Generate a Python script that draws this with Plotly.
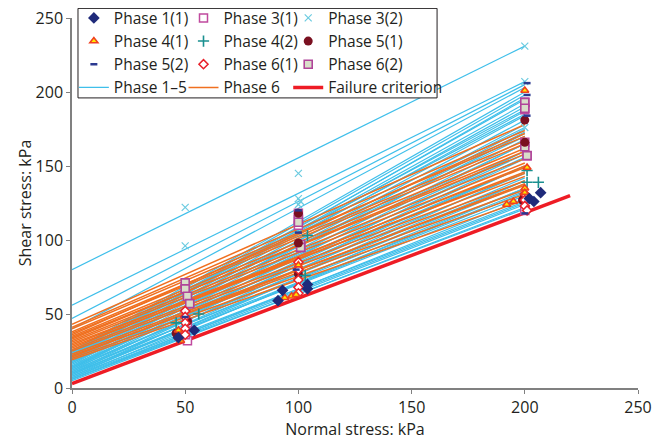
import plotly.graph_objects as go

# ---------------- data ----------------
# Mohr-Coulomb fit lines: intercept (kPa at sigma=0) and shear stress at sigma=200 kPa
phase15_c = [80, 56, 47, 40, 25, 24, 23, 22, 21, 20, 19, 18, 17, 16, 15, 14, 13, 12, 11, 10,
             9, 8, 7, 6, 5, 24, 22, 20, 18, 16, 14, 12, 10, 8, 6, 23, 19, 15, 11, 7,
             21, 17, 13, 9, 25, 20, 14, 10, 6]
phase15_t200 = [231, 207, 205, 203, 200, 198, 195, 192, 190, 187, 184, 181, 178, 175, 172, 168, 165, 160, 155, 150,
                146, 140, 135, 128, 122, 185, 170, 160, 150, 145, 140, 135, 130, 126, 121, 176, 165, 150, 138, 125,
                196, 158, 142, 132, 188, 173, 156, 133, 124]
phase6_c = [43, 41, 40, 38, 37, 35, 34, 32, 31, 29, 28, 26, 25, 23, 22, 20, 19, 33, 27, 21, 36, 30]
phase6_t200 = [178, 174, 170, 167, 165, 162, 158, 155, 152, 149, 146, 143, 140, 137, 134, 131, 127, 160, 150, 138,
               172, 145]
fit_x_end = 200

failure_x = [0, 220]
failure_y = [3, 130]

p11_x = [47, 54, 91, 93, 104, 104, 202, 204, 207]
p11_y = [34, 39, 59, 66, 67, 70, 128, 126, 132]
p41_x = [47, 47, 48, 94, 97, 99, 100, 200, 201, 200, 200, 195, 192]
p41_y = [39, 34, 32, 61, 62, 63, 83, 201, 149, 135, 132, 126, 124]
p52_x = [50, 100, 100, 99, 201, 201, 201, 200]
p52_y = [48, 120, 105, 80, 206, 198, 184, 118]
p31_x = [51, 50, 51, 100, 100, 101, 200, 200, 200, 201, 200]
p31_y = [32, 36, 44, 118, 110, 95, 193, 188, 166, 157, 120]
p42_x = [46, 56, 104, 103, 201, 201, 206]
p42_y = [44, 50, 103, 76, 147, 139, 139]
p61_x = [50, 50, 50, 50, 50, 100, 100, 100, 100, 100, 200, 200, 200, 201]
p61_y = [52, 48, 44, 40, 36, 85, 80, 73, 68, 64, 131, 127, 123, 120]
p32_x = [50, 50, 100, 100, 101, 100, 200, 200, 200]
p32_y = [122, 96, 145, 128, 126, 124, 231, 207, 176]
p51_x = [46, 51, 100, 100, 100, 200, 200, 200, 199]
p51_y = [37, 45, 118, 98, 77, 181, 166, 130, 127]
p62_x = [50, 50, 51, 52, 100, 100, 101, 101, 200, 200, 200, 201]
p62_y = [71, 67, 62, 57, 114, 112, 97, 95, 193, 189, 163, 157]

x_ticks = [0, 50, 100, 150, 200, 250]
y_ticks = [0, 50, 100, 150, 200, 250]

# ---------------- styles ----------------
CYAN = "#3FBFEA"
ORANGE = "#F07020"
RED = "#EE1C25"
FONT = "Open Sans"
TXT = "#231F20"


def segs(cs, ts):
    xs, ys = [], []
    for c, t in zip(cs, ts):
        xs += [0, fit_x_end, None]
        ys += [c, t, None]
    return xs, ys


fig = go.Figure()

x15, y15 = segs(phase15_c, phase15_t200)
x6, y6 = segs(phase6_c, phase6_t200)

fig.add_trace(go.Scatter(x=x15, y=y15, mode="lines", line=dict(color=CYAN, width=1.2),
                         name="Phase 1\u20135", legend="legend", legendrank=4))
fig.add_trace(go.Scatter(x=x6, y=y6, mode="lines", line=dict(color=ORANGE, width=1.5),
                         name="Phase 6", legend="legend2", legendrank=4))
fig.add_trace(go.Scatter(x=failure_x, y=failure_y, mode="lines", line=dict(color=RED, width=3.5),
                         name="Failure criterion", legend="legend3", legendrank=4))


def pts(x, y, name, legend, rank, symbol, size, color, lcolor, lw):
    fig.add_trace(go.Scatter(x=x, y=y, mode="markers", name=name, legend=legend, legendrank=rank,
                             marker=dict(symbol=symbol, size=size, color=color,
                                         line=dict(color=lcolor, width=lw))))


pts(p32_x, p32_y, "Phase 3(2)", "legend3", 1, "x-thin", 7, "#6CCBE0", "#6CCBE0", 1.2)
pts(p31_x, p31_y, "Phase 3(1)", "legend2", 1, "square", 8, "white", "#C04A9E", 1.5)
pts(p62_x, p62_y, "Phase 6(2)", "legend3", 3, "square", 8, "#D9DEC9", "#B0449A", 1.6)
pts(p51_x, p51_y, "Phase 5(1)", "legend3", 2, "circle", 9, "#7A1020", "#7A1020", 0)
pts(p61_x, p61_y, "Phase 6(1)", "legend2", 3, "diamond", 7, "white", "#E8202A", 1.5)
pts(p42_x, p42_y, "Phase 4(2)", "legend2", 2, "cross-thin", 8, "#1A9090", "#1A9090", 1.6)
pts(p41_x, p41_y, "Phase 4(1)", "legend", 2, "triangle-up", 7, "#FFE800", "#F04020", 1.6)
pts(p52_x, p52_y, "Phase 5(2)", "legend", 3, "line-ew", 5, "#2B3990", "#2B3990", 2.5)
pts(p11_x, p11_y, "Phase 1(1)", "legend", 1, "diamond", 9, "#1F2A7A", "#1F2A7A", 0)

axis_common = dict(showgrid=False, zeroline=False, showline=True, linecolor="#808080", linewidth=1.5,
                   ticks="outside", ticklen=4, tickcolor="#808080", automargin=False,
                   ticklabeloverflow="allow",
                   tickfont=dict(family=FONT, size=16, color=TXT))

leg_common = dict(bgcolor="rgba(0,0,0,0)", borderwidth=0, font=dict(family=FONT, size=15.5, color=TXT),
                  traceorder="normal", yanchor="top", xanchor="left", itemsizing="trace",
                  tracegroupgap=0)

fig.update_layout(
    width=661, height=438,
    margin=dict(l=64, r=31, t=10, b=58, autoexpand=False),
    paper_bgcolor="white", plot_bgcolor="white",
    xaxis=dict(range=[0, 250], tickvals=x_ticks, **axis_common,
               title=dict(text="Normal stress: kPa", font=dict(family=FONT, size=16, color=TXT), standoff=6)),
    yaxis=dict(range=[0, 250], tickvals=y_ticks, **axis_common,
               title=dict(text="Shear stress: kPa", font=dict(family=FONT, size=16, color=TXT), standoff=0)),
    legend=dict(x=0.0033, y=1.045, **leg_common),
    legend2=dict(x=0.197, y=1.045, **leg_common),
    legend3=dict(x=0.382, y=1.045, **leg_common),
    shapes=[dict(type="rect", xref="paper", yref="paper", x0=0.0106, x1=0.645, y0=0.784, y1=1.026,
                 line=dict(color="#231F20", width=1), fillcolor="white", layer="above")],
    showlegend=True,
)

fig.write_html("out.html")
